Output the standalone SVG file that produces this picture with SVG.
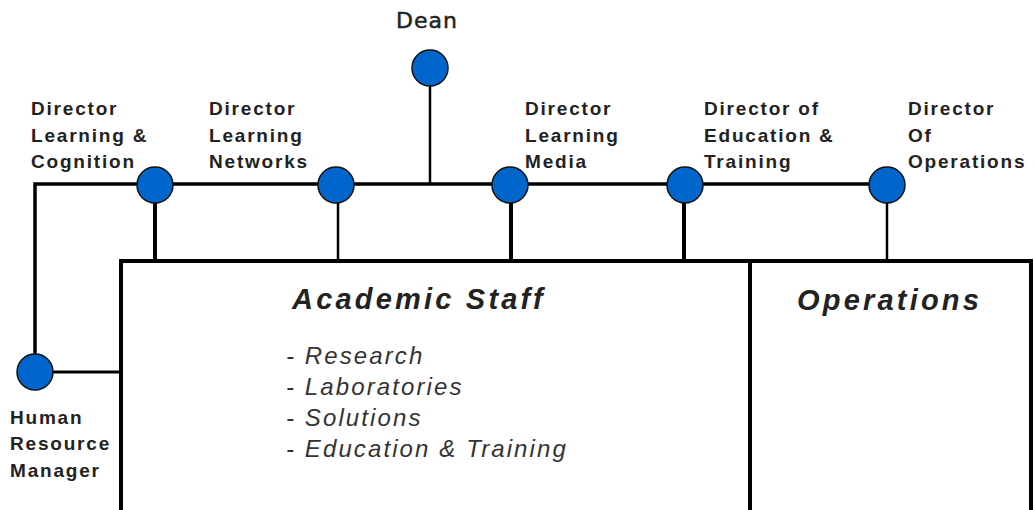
<svg xmlns="http://www.w3.org/2000/svg" width="1034" height="510" viewBox="0 0 1034 510">
<style>
.node circle{fill:#0066cc;stroke:#111;stroke-width:1.5}
.lbl{font-family:"Liberation Sans",Arial,sans-serif;font-weight:bold;font-size:19px;letter-spacing:1.8px;fill:#222}
.dean{font-family:"DejaVu Sans",sans-serif;font-size:22px;letter-spacing:1px;fill:#222;stroke:#222;stroke-width:0.5}
.title{font-family:"Liberation Sans",Arial,sans-serif;font-weight:bold;font-style:italic;font-size:29px;letter-spacing:3.2px;fill:#222}
.item{font-family:"Liberation Sans",Arial,sans-serif;font-style:italic;font-size:24px;letter-spacing:2.1px;fill:#333}
.c line,.c path{stroke:#000;fill:none}
</style>
<rect width="1034" height="510" fill="#fff"/>
<g class="c" id="connectors">
<path d="M35,354 V184 H886" stroke-width="3.5"/>
<line x1="430" y1="86" x2="430" y2="184" stroke-width="2.5"/>
<line x1="155" y1="184" x2="155" y2="261" stroke-width="4"/>
<line x1="338" y1="184" x2="338" y2="261" stroke-width="2.5"/>
<line x1="511" y1="184" x2="511" y2="261" stroke-width="4"/>
<line x1="684" y1="184" x2="684" y2="261" stroke-width="4"/>
<line x1="887" y1="184" x2="887" y2="261" stroke-width="2.5"/>
<line x1="53" y1="372" x2="120" y2="372" stroke-width="3"/>
</g>
<g id="academic">
<path d="M121,512 V261 H750 V512" fill="#fff" stroke="#000" stroke-width="4"/>
<text class="title" x="292" y="309">Academic Staff</text>
<text class="item" x="286" y="364">- Research</text>
<text class="item" x="286" y="395">- Laboratories</text>
<text class="item" x="286" y="426">- Solutions</text>
<text class="item" x="286" y="457">- Education &amp; Training</text>
</g>
<g id="operations">
<path d="M750,512 V261 H1031 V512" fill="#fff" stroke="#000" stroke-width="4"/>
<text class="title" x="797" y="310">Operations</text>
</g>
<g class="node" id="dean"><circle cx="430" cy="68" r="18"/><text class="dean" x="396" y="28">Dean</text></g>
<g class="node" id="dir-lc"><circle cx="155" cy="185" r="18"/>
<text class="lbl" x="31" y="115">Director</text><text class="lbl" x="31" y="142">Learning &amp;</text><text class="lbl" x="31" y="168">Cognition</text></g>
<g class="node" id="dir-ln"><circle cx="336" cy="185" r="18"/>
<text class="lbl" x="209" y="115">Director</text><text class="lbl" x="209" y="142">Learning</text><text class="lbl" x="209" y="168">Networks</text></g>
<g class="node" id="dir-lm"><circle cx="510" cy="185" r="18"/>
<text class="lbl" x="525" y="115">Director</text><text class="lbl" x="525" y="142">Learning</text><text class="lbl" x="525" y="168">Media</text></g>
<g class="node" id="dir-et"><circle cx="685" cy="185" r="18"/>
<text class="lbl" x="704" y="115">Director of</text><text class="lbl" x="704" y="142">Education &amp;</text><text class="lbl" x="704" y="168">Training</text></g>
<g class="node" id="dir-op"><circle cx="887" cy="185" r="18"/>
<text class="lbl" x="908" y="115">Director</text><text class="lbl" x="908" y="142">Of</text><text class="lbl" x="908" y="168">Operations</text></g>
<g class="node" id="hr"><circle cx="35" cy="372" r="18"/>
<text class="lbl" x="10" y="424">Human</text><text class="lbl" x="10" y="450">Resource</text><text class="lbl" x="10" y="477">Manager</text></g>
</svg>
